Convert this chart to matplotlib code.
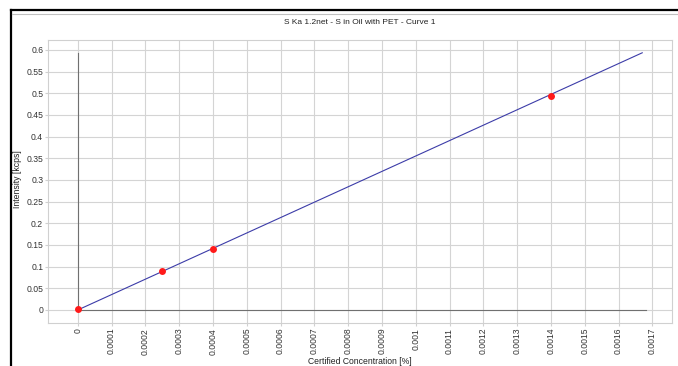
import matplotlib.pyplot as plt
import numpy as np
from matplotlib.lines import Line2D

# measured standards
conc = [0.0, 0.00025, 0.0004, 0.0014]
intensity = [0.002, 0.091, 0.140, 0.493]

# calibration curve end points
curve_x = [0.0, 0.00167]
curve_y = [0.0, 0.5935]

x_ticks = [i * 0.0001 for i in range(18)]
y_ticks = [i * 0.05 for i in range(13)]

plt.rcParams['font.family'] = ['Liberation Sans', 'DejaVu Sans']
plt.rcParams['font.size'] = 6.2

fig = plt.figure(figsize=(6.78, 3.66), dpi=100)
ax = fig.add_axes([48 / 678, 1 - 323 / 366, 624 / 678, 283 / 366])

ax.set_xlim(-0.000088, 0.001758)
ax.set_ylim(-0.03, 0.623)

ax.set_xticks(x_ticks)
ax.set_xticklabels(['%g' % round(v, 4) for v in x_ticks], rotation=90)
ax.set_yticks(y_ticks)
ax.set_yticklabels(['%g' % round(v, 2) for v in y_ticks])

ax.grid(True, color='#d4d4d4', linewidth=0.8)
ax.set_axisbelow(True)
for s in ax.spines.values():
    s.set_color('#d0d0d0')
    s.set_linewidth(0.8)
ax.tick_params(colors='#d0d0d0', labelcolor='#333333', length=2, width=0.8, pad=1.5)

# axis lines through origin
ax.plot([0, 0], [0, 0.594], color='#707070', linewidth=0.8)
ax.plot([0, 0.00168], [0, 0], color='#707070', linewidth=0.8)

ax.plot(curve_x, curve_y, color='#3c3ca8', linewidth=0.8)
ax.plot(conc, intensity, 'o', color='#ff1a1a', markersize=5, markeredgewidth=0)

fig.text(360 / 678, 1 - 23 / 366, 'S Ka 1.2net - S in Oil with PET - Curve 1',
         ha='center', va='center', color='#222222', fontsize=6.0)
fig.text(360 / 678, 1 - 357 / 366, 'Certified Concentration [%]',
         ha='center', va='top', color='#222222')
fig.text(17.5 / 678, 1 - 179 / 366, 'Intensity [kcps]', rotation=90,
         ha='center', va='center', color='#222222')

# window frame
fig.add_artist(Line2D([11 / 678, 1], [1 - 10 / 366, 1 - 10 / 366], color='black', linewidth=1.6))
fig.add_artist(Line2D([11 / 678, 11 / 678], [0, 1 - 10 / 366], color='black', linewidth=1.6))
fig.add_artist(Line2D([12 / 678, 1], [1 - 13.5 / 366, 1 - 13.5 / 366], color='#c0c0c0', linewidth=0.8))

fig.savefig('out.png', dpi=100)
